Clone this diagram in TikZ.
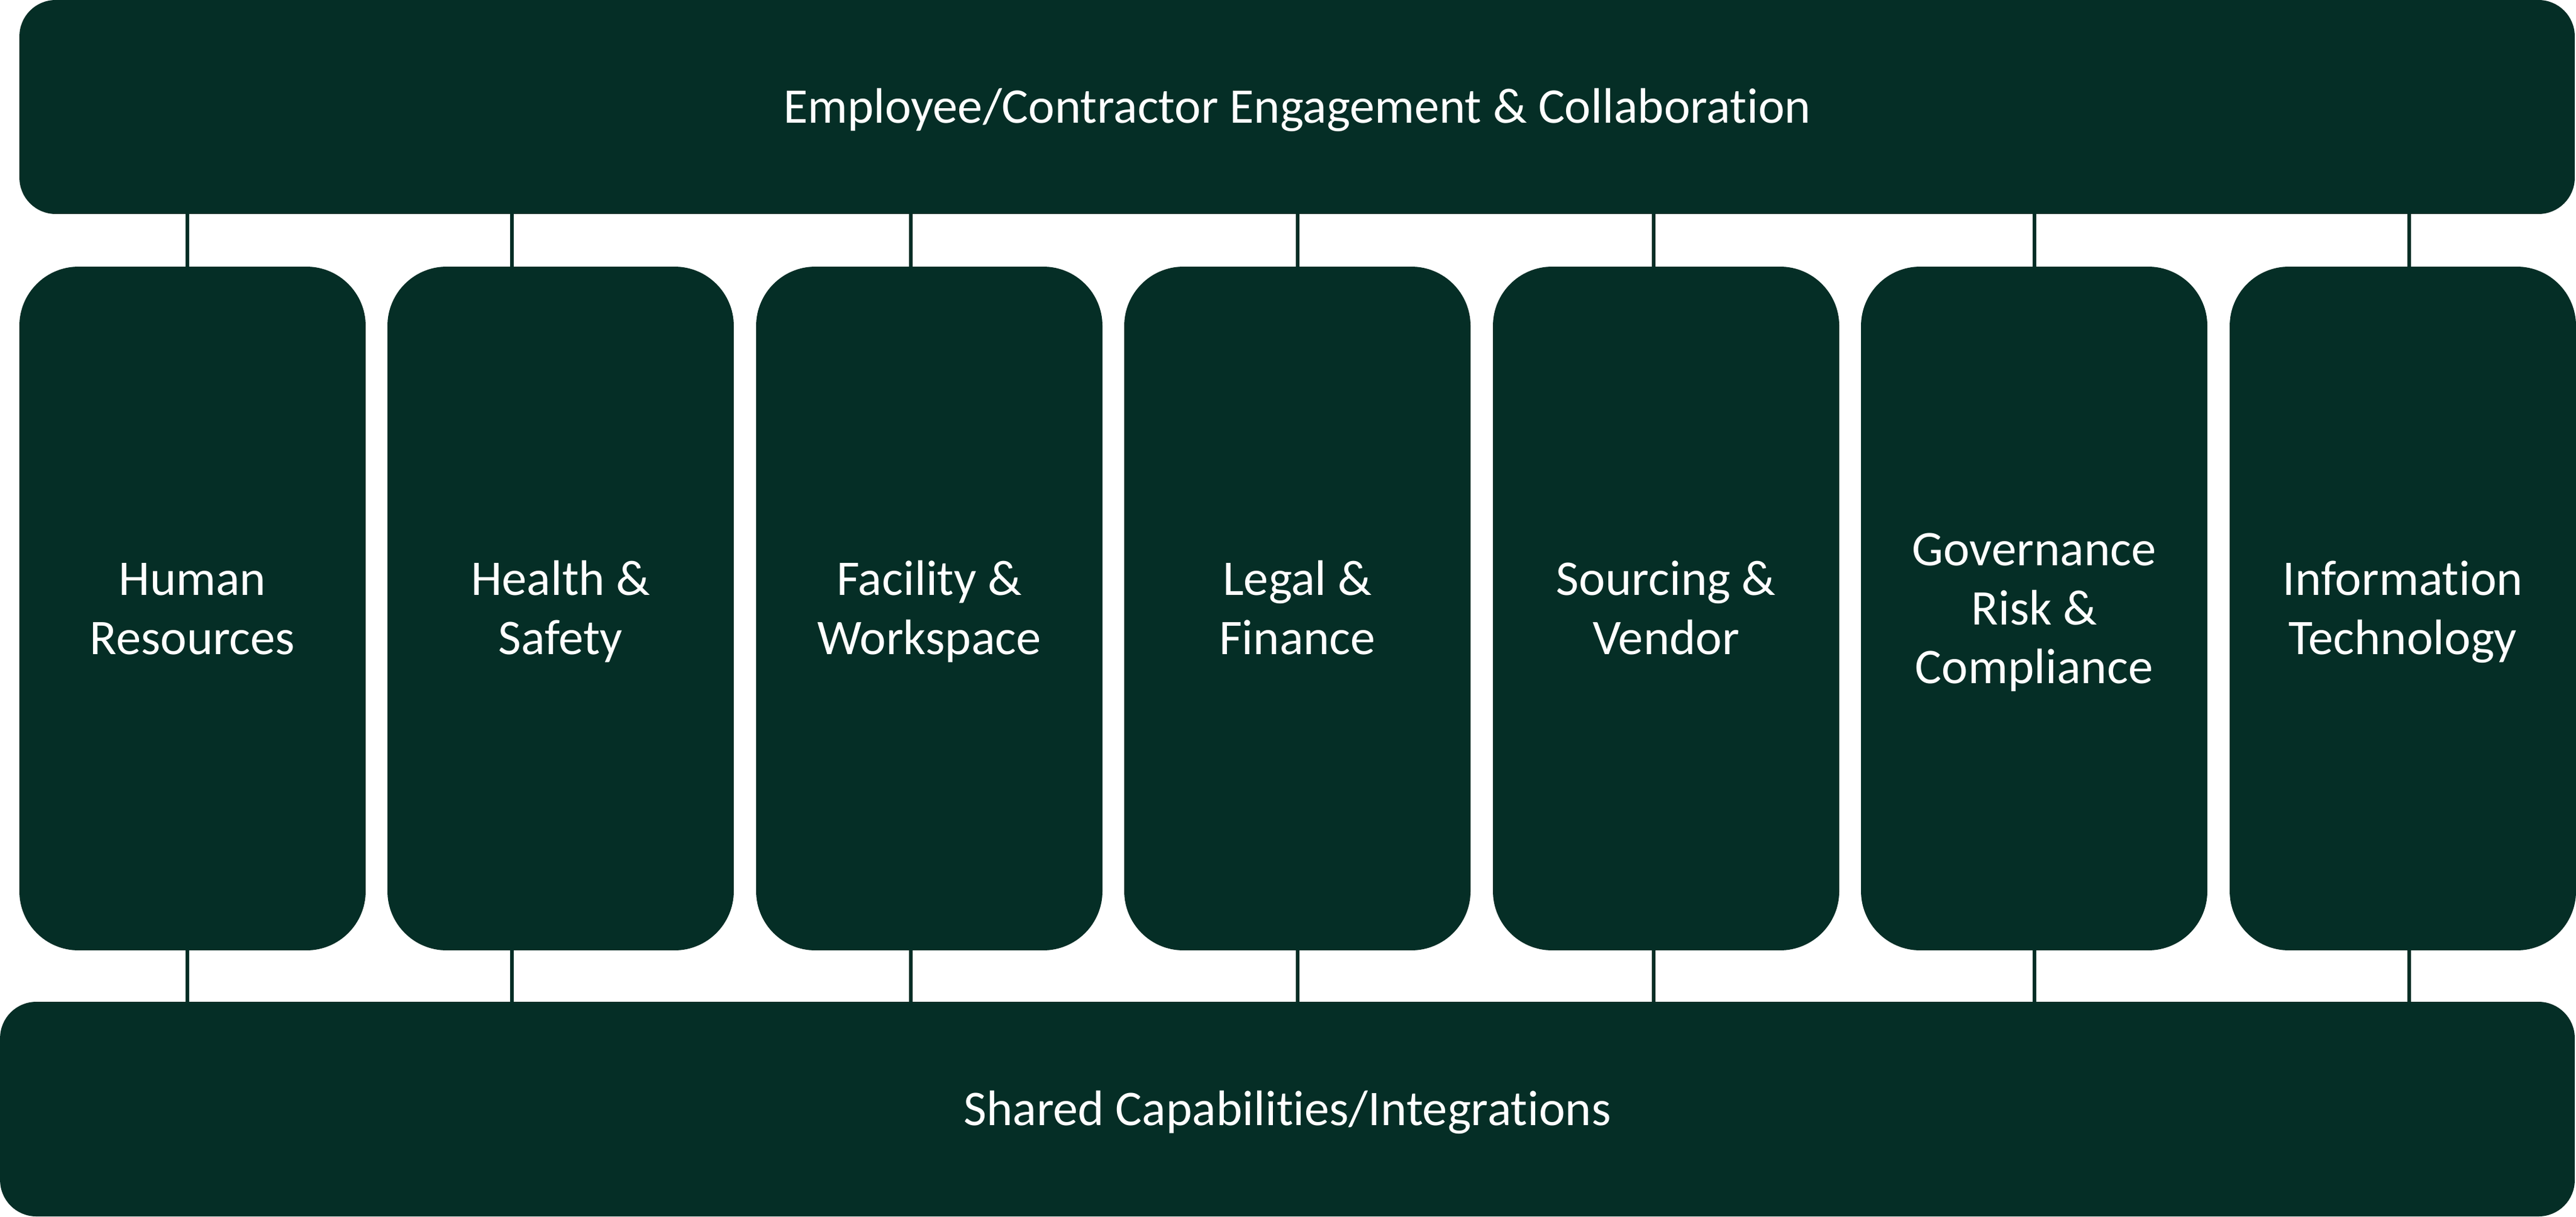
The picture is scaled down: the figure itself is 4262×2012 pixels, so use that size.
\documentclass[tikz,border=0pt]{standalone}
\usepackage{fontspec}
\setmainfont{Carlito}[Ligatures=NoCommon]
\definecolor{darkgreen}{RGB}{5,46,38}
\newcommand\lstrut{\rule[-2.2pt]{0pt}{9.75pt}}
\tikzset{
  bigbox/.style={fill=darkgreen, rounded corners=6pt, inner sep=0pt, outer sep=0pt,
    text=white, font=\fontsize{8.25}{9.75}\selectfont, align=center},
  colbox/.style={fill=darkgreen, rounded corners=9.8pt, inner sep=0pt, outer sep=0pt,
    text=white, font=\fontsize{8.25}{9.75}\selectfont, align=center,
    minimum width=57.3pt, minimum height=113.1pt},
  conn/.style={draw=darkgreen, line width=0.65pt}
}
\begin{document}
\begin{tikzpicture}[x=0.1pt,y=-0.1pt]
\useasboundingbox (0,0) rectangle (4262,2012);
\node[bigbox, minimum width=422.8pt, minimum height=35.4pt] (top) at (2146,177)
  {\lstrut Employee/Contractor Engagement \& Collaboration};
\node[bigbox, minimum width=426pt, minimum height=35.5pt] (bot) at (2130,1834.5)
  {\lstrut Shared Capabilities/Integrations};
\node[colbox] (c1) at (318.5,1006.5) {\lstrut Human\\\lstrut Resources};
\node[colbox] (c2) at (927.5,1006.5) {\lstrut Health \&\\\lstrut Safety};
\node[colbox] (c3) at (1537.5,1006.5) {\lstrut Facility \&\\\lstrut Workspace};
\node[colbox] (c4) at (2146.5,1006.5) {\lstrut Legal \&\\\lstrut Finance};
\node[colbox] (c5) at (2756.5,1006.5) {\lstrut Sourcing \&\\\lstrut Vendor};
\node[colbox] (c6) at (3365.5,1006.5) {\lstrut Governance\\\lstrut Risk \&\\\lstrut Compliance};
\node[colbox] (c7) at (3975.5,1006.5) {\lstrut Information\\\lstrut Technology};
\coordinate (x1) at (310,0);
\coordinate (x2) at (847,0);
\coordinate (x3) at (1507,0);
\coordinate (x4) at (2147,0);
\coordinate (x5) at (2736,0);
\coordinate (x6) at (3366,0);
\coordinate (x7) at (3986,0);
\foreach \i in {1,...,7}{
  \draw[conn] (top.south -| x\i) -- (c\i.north -| x\i);
  \draw[conn] (c\i.south -| x\i) -- (bot.north -| x\i);
}
\end{tikzpicture}
\end{document}
